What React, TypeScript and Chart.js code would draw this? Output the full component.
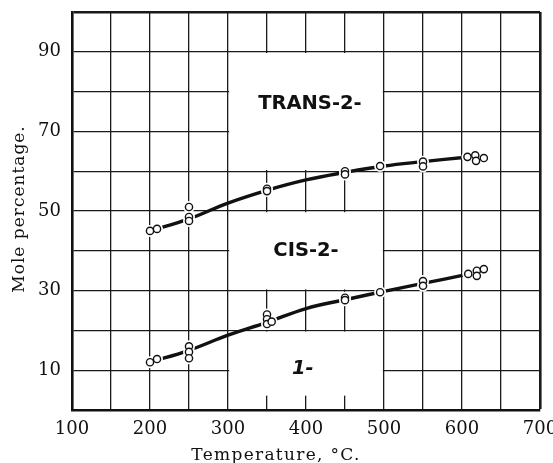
import React, { useEffect, useRef } from "react";
import { Chart, registerables } from "chart.js";

Chart.register(...registerables);

// Curves
const transCurveT = [200, 250, 300, 350, 400, 450, 500, 550, 605];
const transCurveV = [45, 48, 52, 55.2, 57.8, 59.7, 61.3, 62.4, 63.5];
const lowerCurveT = [200, 250, 300, 350, 400, 450, 500, 550, 605];
const lowerCurveV = [12, 15, 18.8, 22, 25.5, 27.7, 29.8, 31.8, 34];

// Observed points
const transPtsT = [200, 209, 250, 250, 250, 350, 350, 450, 450, 495, 550, 550, 607, 617, 618, 628];
const transPtsV = [45, 45.5, 51, 48.5, 47.5, 55.6, 55, 60, 59.2, 61.3, 62.4, 61.2, 63.6, 64, 62.6, 63.3];
const lowerPtsT = [200, 209, 250, 250, 250, 350, 350, 350, 356, 450, 450, 495, 550, 550, 608, 619, 619, 628];
const lowerPtsV = [12, 12.8, 16, 14.6, 13, 24, 22.8, 21.6, 22.2, 28.2, 27.6, 29.6, 32.4, 31.2, 34.2, 35, 33.7, 35.4];

// Region labels and their blank boxes
const regionNames = ["TRANS-2-", "CIS-2-", "1-"];
const regionLabelT = [405, 400, 396];
const regionLabelV = [77, 40, 10.3];
const boxT0 = [300, 300, 300];
const boxT1 = [500, 500, 500];
const boxV0 = [60, 30, 3.3];
const boxV1 = [90, 50, 20];

const xTitle = "Temperature, °C.";
const yTitle = "Mole percentage.";

const pts = (t: number[], v: number[]) => t.map((x, i) => ({ x, y: v[i] }));

export default function App() {
  const ref = useRef<HTMLCanvasElement>(null);
  useEffect(() => {
    const canvas = ref.current!;
    const serif = "'DejaVu Serif', serif";
    const boxPlugin = {
      id: "boxes",
      beforeDatasetsDraw(chart: any) {
        const { ctx } = chart;
        const xs = chart.scales.x, ys = chart.scales.y;
        ctx.save();
        ctx.fillStyle = "#ffffff";
        for (let i = 0; i < boxT0.length; i++) {
          const l = xs.getPixelForValue(boxT0[i]) + 1.2;
          const r = xs.getPixelForValue(boxT1[i]) - 1.2;
          const t = ys.getPixelForValue(boxV1[i]) + 1.2;
          const b = ys.getPixelForValue(boxV0[i]) - 1.2;
          ctx.fillRect(l, t, r - l, b - t);
        }
        ctx.restore();
      },
      afterDraw(chart: any) {
        const { ctx } = chart;
        const xs = chart.scales.x, ys = chart.scales.y;
        ctx.save();
        ctx.fillStyle = "#111";
        ctx.textAlign = "center";
        ctx.textBaseline = "middle";
        for (let i = 0; i < regionNames.length; i++) {
          ctx.font = (i === 2 ? "italic " : "") + "bold 19.5px 'DejaVu Sans', sans-serif";
          ctx.fillText(regionNames[i], xs.getPixelForValue(regionLabelT[i]), ys.getPixelForValue(regionLabelV[i]));
        }
        ctx.font = "17px " + serif;
        (ctx as any).letterSpacing = "1.3px";
        ctx.textBaseline = "alphabetic";
        ctx.fillText(xTitle, 276, 460);
        (ctx as any).letterSpacing = "1px";
        ctx.translate(20, 209);
        ctx.rotate(-Math.PI / 2);
        ctx.textBaseline = "middle";
        ctx.fillText(yTitle, 0, 0);
        ctx.restore();
      },
    };
    const chart = new Chart(canvas, {
      type: "scatter",
      data: {
        datasets: [
          { data: pts(transPtsT, transPtsV), pointRadius: 3.6, pointBorderWidth: 1.4, pointBackgroundColor: "#fff", pointBorderColor: "#111", order: 0 },
          { data: pts(lowerPtsT, lowerPtsV), pointRadius: 3.6, pointBorderWidth: 1.4, pointBackgroundColor: "#fff", pointBorderColor: "#111", order: 0 },
          { data: pts(transPtsT, transPtsV), pointRadius: 6, pointBorderWidth: 0, pointBackgroundColor: "#fff", order: 1 },
          { data: pts(lowerPtsT, lowerPtsV), pointRadius: 6, pointBorderWidth: 0, pointBackgroundColor: "#fff", order: 1 },
          { data: pts(transCurveT, transCurveV), showLine: true, pointRadius: 0, borderColor: "#111", borderWidth: 3.4, tension: 0.4, order: 2 },
          { data: pts(lowerCurveT, lowerCurveV), showLine: true, pointRadius: 0, borderColor: "#111", borderWidth: 3.4, tension: 0.4, order: 2 },
        ] as any,
      },
      options: {
        animation: false,
        responsive: true,
        maintainAspectRatio: false,
        layout: { padding: { top: 12, right: 13, left: 0, bottom: 0 } },
        plugins: { legend: { display: false }, tooltip: { enabled: false } },
        scales: {
          x: {
            type: "linear",
            min: 100,
            max: 700,
            afterFit(s: any) { s.height = 53; s.paddingLeft = 0; s.paddingRight = 0; },
            ticks: {
              stepSize: 50,
              autoSkip: false,
              maxRotation: 0,
              padding: 9,
              color: "#111",
              font: { family: "DejaVu Serif", size: 18 },
              callback: (v: any) => (Number(v) % 100 === 0 ? String(v) : ""),
            },
            grid: {
              color: "#1a1a1a",
              lineWidth: (c: any) => (c.tick && c.tick.value === 700 ? 2.6 : 1.3),
              tickLength: 0,
              drawTicks: false,
            },
            border: { color: "#111", width: 2.6 },
          },
          y: {
            type: "linear",
            min: 0,
            max: 100,
            afterFit(s: any) { s.width = 72; s.paddingTop = 0; s.paddingBottom = 0; },
            ticks: {
              stepSize: 10,
              autoSkip: false,
              padding: 11,
              color: "#111",
              font: { family: "DejaVu Serif", size: 18 },
              callback: (v: any) => (Number(v) % 20 === 10 ? String(v) : ""),
            },
            grid: {
              color: "#1a1a1a",
              lineWidth: (c: any) => (c.tick && c.tick.value === 100 ? 2.6 : 1.3),
              tickLength: 0,
              drawTicks: false,
            },
            border: { color: "#111", width: 2.6 },
          },
        },
      },
      plugins: [boxPlugin],
    });
    return () => chart.destroy();
  }, []);
  return (
    <div style={{ position: "fixed", left: 0, top: 0, width: 553, height: 463, background: "#fff" }}>
      <canvas ref={ref} />
    </div>
  );
}
